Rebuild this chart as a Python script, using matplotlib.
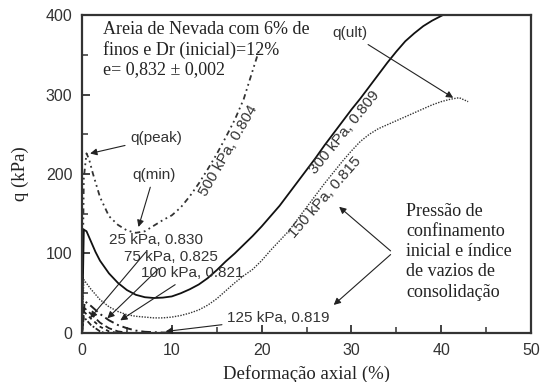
import matplotlib.pyplot as plt
import numpy as np

# curve data: axial strain (%) and deviator stress q (kPa)
x500 = [0, 0.2, 0.5, 0.8, 1.2, 2, 3, 4, 5, 6, 7, 8, 9, 10, 11, 12, 13, 14, 15, 16, 17, 18, 19, 19.7]
q500 = [0, 195, 226, 218, 201, 171, 147, 136, 129, 126, 128, 135, 142, 148, 158, 172, 188, 206, 225, 246, 268, 294, 330, 355]

x300 = [0, 0.2, 0.5, 1, 1.5, 2, 3, 4, 5, 6, 7, 8, 9, 10, 11, 12, 13, 14, 15, 16, 17, 18, 19, 20,
        21, 22, 23, 24, 25, 26, 27, 28, 29, 30, 31, 32, 33, 34, 35, 36, 37, 38, 39, 40.2]
q300 = [0, 130, 128, 115, 102, 91, 75, 63, 54, 48, 45, 44, 44.5, 46, 50, 55, 61, 69, 79, 90, 100, 111, 122, 134,
        147, 160, 175, 190, 205, 220, 236, 251, 266, 281, 295, 310, 325, 340, 354, 367, 377, 386, 393, 400]

x150 = [0, 0.2, 1, 2, 3, 4, 5, 6, 7, 8, 9, 10, 11, 12, 13, 14, 15, 16, 17, 18, 19, 20, 21, 22, 23, 24, 25, 26,
        27, 28, 29, 30, 31, 32, 33, 34, 35, 36, 37, 38, 39, 40, 41, 42, 43]
q150 = [0, 67, 55, 42, 33, 27, 23, 21, 20, 19, 19, 20, 22, 25, 29, 35, 43, 53, 63, 72, 80, 91, 104, 116, 128, 143, 158, 173,
        188, 202, 216, 229, 241, 250, 257, 262, 267, 272, 277, 282, 287, 291, 294, 296, 291]

x125 = [0, 0.3, 1, 2, 3, 4, 5, 6, 7, 8, 9, 10]
q125 = [0, 40, 34, 24, 16, 10, 6, 3, 1.5, 1, 0.5, 0.5]

x100 = [0, 0.2, 1, 2, 3, 4, 5]
q100 = [0, 32, 24, 13, 6, 2, 0.5]

x75 = [0, 0.2, 1, 2, 3, 4]
q75 = [0, 27, 18, 8, 2, 0]

x25 = [0, 0.2, 1, 2, 2.5]
q25 = [0, 20, 10, 2, 0]

SERIF = "Liberation Serif"
SANS = "Liberation Sans"
INK = "#222222"

fig = plt.figure(figsize=(5.41, 3.82), dpi=100)
ax = fig.add_axes([0.1516, 0.1283, 0.8299, 0.8324])

ax.plot(x500, q500, color="#333333", lw=1.3, ls=(0, (3, 2, 1, 2, 1, 2)))
ax.plot(x300, q300, color="#111111", lw=1.3, ls="-")
ax.plot(x150, q150, color="#333333", lw=1.0, ls=(0, (1, 1)))
ax.plot(x125, q125, color="#222222", lw=1.4, ls=(0, (5, 2, 1, 2)))
ax.plot(x100, q100, color="#222222", lw=1.3, ls=(0, (4, 2)))
ax.plot(x75, q75, color="#222222", lw=1.3, ls=(0, (2, 2)))
ax.plot(x25, q25, color="#222222", lw=1.3, ls=(0, (3, 1, 1, 1)))

ax.set_xlim(0, 50)
ax.set_ylim(0, 400)
ax.set_xticks([0, 10, 20, 30, 40, 50])
ax.set_xticks([5, 15, 25, 35, 45], minor=True)
ax.set_yticks([0, 100, 200, 300, 400])
ax.set_yticks([50, 150, 250, 350], minor=True)
ax.tick_params(which="major", direction="in", length=6, width=1.3, color="#333333",
               labelsize=11.5, labelcolor="#333333", pad=7)
ax.tick_params(which="minor", direction="in", length=4, width=1.1, color="#333333")
for lab in ax.get_xticklabels() + ax.get_yticklabels():
    lab.set_fontfamily(SANS)
for sp in ax.spines.values():
    sp.set_linewidth(1.6)
    sp.set_color("#333333")

ax.set_xlabel("Deformação axial (%)", fontfamily=SERIF, fontsize=13.5, color=INK, labelpad=5)
ax.set_ylabel("q (kPa)", fontfamily=SERIF, fontsize=13.5, color=INK, labelpad=12)

ax.text(2.3, 393, "Areia de Nevada com 6% de\nfinos e Dr (inicial)=12%\ne= 0,832 ± 0,002",
        fontfamily=SERIF, fontsize=13, color=INK, va="top", ha="left", linespacing=1.22)

ax.text(36.1, 164, "Pressão de\nconfinamento\ninicial e índice\nde vazios de\nconsolidação",
        fontfamily=SERIF, fontsize=13, color=INK, va="top", ha="left", linespacing=1.25)

arrow = dict(arrowstyle="-|>", color="#222222", lw=0.8, mutation_scale=10)
small = dict(fontfamily=SANS, fontsize=11, color="#333333")

ax.annotate("q(peak)", xy=(0.6, 225), xytext=(5.4, 245), arrowprops=arrow, ha="left", va="center", **small)
ax.annotate("q(min)", xy=(6.2, 130), xytext=(5.6, 199), arrowprops=arrow, ha="left", va="center", **small)
ax.annotate("q(ult)", xy=(41.6, 294), xytext=(27.9, 377), arrowprops=arrow, ha="left", va="center", **small)

ax.annotate("25 kPa, 0.830", xy=(0.7, 16), xytext=(3.0, 117), arrowprops=arrow, ha="left", va="center", **small)
ax.annotate("75 kPa, 0.825", xy=(2.6, 16), xytext=(4.7, 96), arrowprops=arrow, ha="left", va="center", **small)
ax.annotate("100 kPa, 0.821", xy=(4.0, 14), xytext=(6.6, 75), arrowprops=arrow, ha="left", va="center", **small)
ax.annotate("125 kPa, 0.819", xy=(9.0, 1.5), xytext=(16.2, 19), arrowprops=arrow, ha="left", va="center", **small)

ax.text(16.3, 229, "500 kPa, 0.804", rotation=60, ha="center", va="center", **small)
ax.text(29.2, 252, "300 kPa, 0.809", rotation=51, ha="center", va="center", **small)
ax.text(27.1, 170, "150 kPa, 0.815", rotation=49, ha="center", va="center", **small)

ax.annotate("", xy=(28.4, 161), xytext=(34.6, 101), arrowprops=arrow)
ax.annotate("", xy=(27.8, 33), xytext=(34.6, 101), arrowprops=arrow)

fig.savefig("out.png", dpi=100)
